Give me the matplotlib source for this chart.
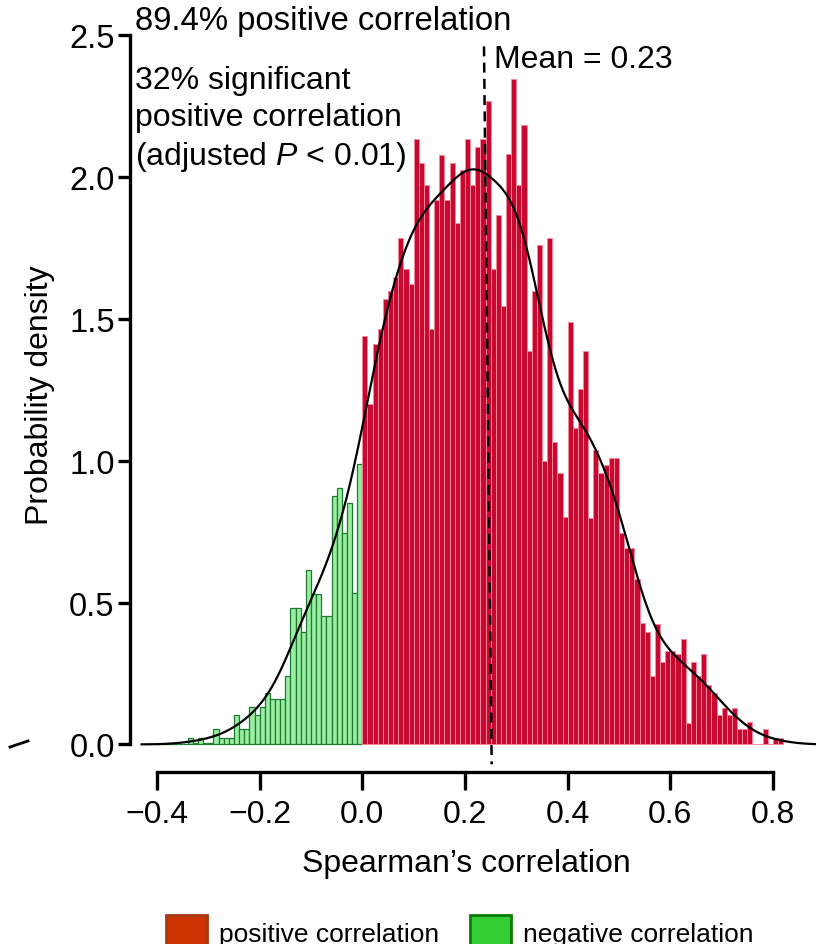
import numpy as np
import matplotlib.pyplot as plt
from matplotlib.patches import Patch
from matplotlib.lines import Line2D

plt.rcParams['font.family'] = ['Liberation Sans', 'DejaVu Sans']
plt.rcParams['mathtext.fontset'] = 'custom'
plt.rcParams['mathtext.it'] = 'Liberation Sans:italic'
plt.rcParams['mathtext.rm'] = 'Liberation Sans'

# histogram: bins of width 0.01 starting at -0.40
bin_start = -0.40
bin_width = 0.01
neg_density = [0, 0, 0, 0, 0, 0, 0.022, 0.005, 0.022, 0.005,
               0.005, 0.054, 0.022, 0.022, 0.022, 0.105, 0.053, 0.053, 0.132, 0.105,
               0.132, 0.182, 0.159, 0.159, 0.159, 0.241, 0.48, 0.48, 0.397, 0.614,
               0.529, 0.529, 0.452, 0.452, 0.876, 0.905, 0.746, 0.852, 0.532, 0.987]
pos_density = [1.44, 1.198, 1.41, 1.463, 1.571, 1.598, 1.649, 1.784, 1.677, 1.624,
               2.133, 2.049, 1.971, 1.463, 1.919, 2.078, 1.918, 2.05, 1.837, 2.024,
               2.133, 1.97, 2.107, 2.133, 2.266, 1.677, 1.865, 1.546, 2.08, 2.345,
               1.971, 2.184, 1.385, 1.598, 1.76, 1.0, 1.784, 1.064, 0.956, 0.8,
               1.489, 1.116, 1.252, 1.385, 0.799, 1.036, 0.955, 0.985, 1.011, 1.011,
               0.745, 0.692, 0.692, 0.582, 0.427, 0.396, 0.241, 0.425, 0.29, 0.33,
               0.33, 0.32, 0.37, 0.076, 0.291, 0.241, 0.317, 0.21, 0.182, 0.103,
               0.129, 0.103, 0.129, 0.053, 0.053, 0.079, 0, 0, 0.053, 0,
               0.024, 0.024]
mean_corr = 0.23
pct_positive = 89.4
pct_significant = 32
y_ticks = [0.0, 0.5, 1.0, 1.5, 2.0, 2.5]
x_ticks = [-0.4, -0.2, 0.0, 0.2, 0.4, 0.6, 0.8]

neg_left = bin_start + bin_width * np.arange(len(neg_density))
pos_left = bin_start + bin_width * (len(neg_density) + np.arange(len(pos_density)))

# smoothed density from the binned values (gaussian kernel)
centers = np.concatenate([neg_left, pos_left]) + bin_width / 2
weights = np.array(neg_density + pos_density) * bin_width
bw = 0.037
grid = np.linspace(bin_start - 0.03, 0.92, 600)
kde = (weights[None, :] * np.exp(-0.5 * ((grid[:, None] - centers[None, :]) / bw) ** 2)).sum(1)
kde = kde / (weights.sum() * np.sqrt(2 * np.pi) * bw)

fig = plt.figure(figsize=(8.16, 9.45), dpi=100)
ax = fig.add_axes([130 / 816, 1 - 773.4 / 945, 686 / 816, 773.4 / 945])

ax.bar(neg_left, neg_density, width=bin_width, align='edge',
       color='#9aeea0', edgecolor='#1f7a35', linewidth=0.9)
ax.bar(pos_left, pos_density, width=bin_width, align='edge',
       color='#c8082f', edgecolor='#f4889c', linewidth=0.7)
ax.plot(grid, kde, color='black', lw=1.6, zorder=4)
ax.plot([mean_corr + 0.007, mean_corr + 0.022], [2.46, -0.07], color='black',
        lw=1.8, ls=(0, (4, 2.5)), zorder=5)

ax.set_xlim(-0.4526, 0.8838)
ax.set_ylim(-0.0987, 2.627)
for s in ['top', 'right']:
    ax.spines[s].set_visible(False)
ax.spines['left'].set_bounds(0, 2.5)
ax.spines['bottom'].set_bounds(-0.4, 0.8)
ax.spines['left'].set_linewidth(2.4)
ax.spines['bottom'].set_linewidth(2.4)

ax.set_yticks(y_ticks)
ax.set_yticklabels([f'{v:.1f}' for v in y_ticks])
ax.set_xticks(x_ticks)
ax.set_xticklabels([f'{v:.1f}'.replace('-', '\u2212') for v in x_ticks])
ax.tick_params(axis='y', width=2.4, length=9, labelsize=23.5, pad=2)
ax.tick_params(axis='x', width=2.4, length=13, labelsize=23, pad=6)

ax.set_ylabel('Probability density', fontsize=23)
ax.yaxis.set_label_coords(-0.11, 0.489)
ax.set_xlabel('Spearman\u2019s correlation', fontsize=23)
ax.xaxis.set_label_coords(0.491, -0.098)

ax.text(-0.443, 2.55, f'{pct_positive}% positive correlation', fontsize=23.7,
        va='center', ha='left')
ax.text(-0.443, 2.395, f'{pct_significant}% significant\npositive correlation\n'
        r'(adjusted $P$ < 0.01)', fontsize=23, va='top', ha='left', linespacing=1.3)
ax.text(0.2565, 2.415, f'Mean = {mean_corr}', fontsize=23, va='center', ha='left')

fig.add_artist(Line2D([10 / 816, 28 / 816], [1 - 748 / 945, 1 - 742 / 945],
                      color='black', lw=2))

handles = [Patch(facecolor='#cc3300', edgecolor='#a33a12', lw=2),
           Patch(facecolor='#33cc33', edgecolor='#0b7a0b', lw=2)]
fig.legend(handles, ['positive correlation', 'negative correlation'],
           loc='center left', bbox_to_anchor=(142 / 816, 1 - 933 / 945),
           ncol=2, frameon=False, fontsize=19, handlelength=1.55, handleheight=1.55,
           handletextpad=0.45, columnspacing=1.2)

fig.savefig('out.png', dpi=100)
